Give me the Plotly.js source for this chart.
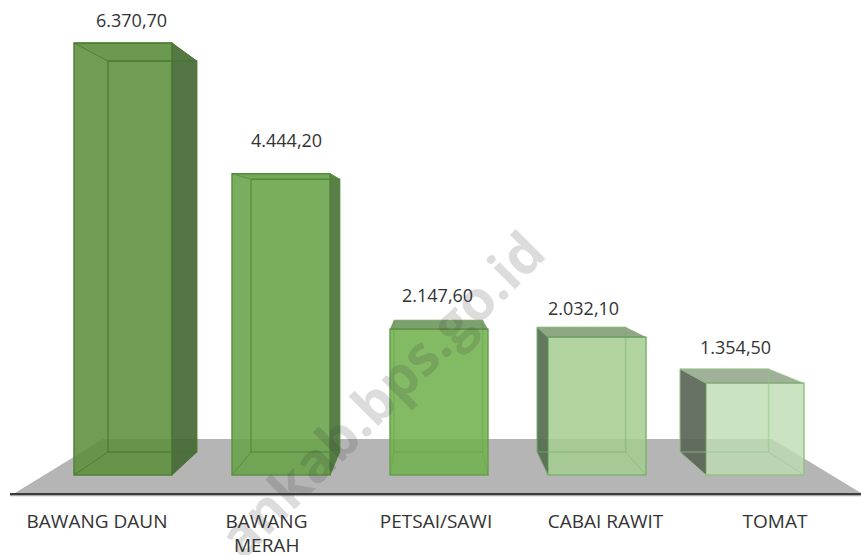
<!DOCTYPE html>
<html><head><meta charset="utf-8">
<script src="https://cdn.plot.ly/plotly-3.0.1.min.js"></script>
<style>html,body{margin:0;padding:0;background:#fff}#c{width:861px;height:555px}</style>
</head><body><div id="c"></div>
<script>
// DATA
var categories = ['BAWANG DAUN', 'BAWANG MERAH', 'PETSAI/SAWI', 'CABAI RAWIT', 'TOMAT'];
var tickLines = ['BAWANG DAUN', 'BAWANG', 'PETSAI/SAWI', 'CABAI RAWIT', 'TOMAT'];
var values = [6370.70, 4444.20, 2147.60, 2032.10, 1354.50];
var valueLabels = ['6.370,70', '4.444,20', '2.147,60', '2.032,10', '1.354,50'];

// STYLE
var frontFill = ['rgba(92,142,60,0.88)', 'rgba(104,162,72,0.88)', 'rgba(114,178,80,0.88)', 'rgba(165,204,145,0.85)', 'rgba(190,220,178,0.8)'];
var edge = ['#4f8236', '#5b9140', '#68a04a', '#7db36b', '#93c283'];
var innerEdge = ['rgba(70,120,45,0.75)', 'rgba(80,135,55,0.7)', 'rgba(90,150,65,0.3)', 'rgba(120,175,105,0.45)', 'rgba(150,195,135,0.5)'];
var sideFill = ['rgba(70,105,55,0.92)', 'rgba(76,116,60,0.92)', '#5f8a4c', 'rgba(85,110,80,0.92)', 'rgba(90,102,88,0.92)'];
var topFill = ['rgba(90,140,60,0.15)', 'rgba(100,155,70,0.2)', 'rgba(70,120,50,0.7)', 'rgba(90,125,75,0.68)', 'rgba(95,125,85,0.6)'];
var labelDx = [8, 5.5, -1.5, -13.5, -20];
var labelDy = [23, 34, 34, 29, 36];

// GEOMETRY: one px scale shared by the data axes
var pxBase = 475, pxAxis = 498, pxFirst = 123, pxStep = 158;
var tickFirst = 97, tickStep = 169.5;
var unitPerPx = 6370.7 / 432;
var W = 861;
var barW = 0.62;
function X(px) { return (px - pxFirst) / pxStep; }
function Y(px) { return (pxBase - px) * unitPerPx; }
var vx = X(432), vy = Y(233), depth = 0.905;
function pr(x, y) { return [vx + depth * (x - vx), vy + depth * (y - vy)]; }

var traces = [];
traces.push({ type: 'bar', x: [0, 1, 2, 3, 4], y: values, width: barW,
  marker: { color: frontFill, line: { color: edge, width: 1.5 } }, hoverinfo: 'skip', showlegend: false });

function poly(pts, fill, line, lw) {
  traces.push({ type: 'scatter', mode: 'lines', x: pts.map(function (p) { return p[0]; }), y: pts.map(function (p) { return p[1]; }),
    fill: fill ? 'toself' : 'none', fillcolor: fill || undefined, line: { color: line, width: lw }, hoverinfo: 'skip', showlegend: false });
}
values.forEach(function (v, i) {
  var l = i - barW / 2, r = i + barW / 2;
  var FTL = [l, v], FTR = [r, v], FBL = [l, 0], FBR = [r, 0];
  var BTL = pr(l, v), BTR = pr(r, v), BBL = pr(l, 0), BBR = pr(r, 0);
  if (BTR[0] > r) poly([FTR, BTR, BBR, FBR, FTR], sideFill[i], innerEdge[i], 1);
  if (BTL[0] < l) poly([FTL, BTL, BBL, FBL, FTL], sideFill[i], innerEdge[i], 1);
  poly([FTL, FTR, BTR, BTL, FTL], topFill[i], innerEdge[i], 1);
  poly([BTL, BTR, BBR, BBL, BTL], null, innerEdge[i], 1.5);
  poly([FBL, BBL], null, innerEdge[i], 1);
  poly([FBR, BBR], null, innerEdge[i], 1);
});

var valueFont = { family: 'Open Sans', size: 18, color: '#333' };
var tickFont = { family: 'Open Sans', size: 19, color: '#333' };
var annotations = values.map(function (v, i) {
  return { x: i, y: v, xref: 'x', yref: 'y', text: valueLabels[i], showarrow: false, xanchor: 'center', yanchor: 'middle',
    xshift: labelDx[i], yshift: labelDy[i], font: valueFont };
});
annotations.push({ x: X(tickFirst + tickStep), y: (pxAxis - 545) / pxAxis, xref: 'x', yref: 'paper', text: 'MERAH', showarrow: false,
  xanchor: 'center', yanchor: 'middle', font: tickFont });
annotations.push({ x: X(380), y: Y(393), xref: 'x', yref: 'y', text: 'ankab.bps.go.id', showarrow: false, textangle: -45,
  xanchor: 'center', yanchor: 'middle', font: { family: 'Open Sans', size: 55, weight: 700, color: 'rgba(60,60,60,0.18)' } });

var floorPts = [[X(15), Y(493)], [X(103), Y(439)], [X(772), Y(439)], [X(861), Y(493)]];
var floorPath = 'M' + floorPts.map(function (p) { return p[0] + ',' + p[1]; }).join(' L') + ' Z';

var layout = {
  width: W, height: 555, margin: { l: 0, r: 0, t: 0, b: 555 - pxAxis, pad: 0 },
  paper_bgcolor: '#fff', plot_bgcolor: 'rgba(0,0,0,0)', showlegend: false, barmode: 'overlay',
  xaxis: { range: [X(0), X(W)], tickmode: 'array', tickvals: [0, 1, 2, 3, 4].map(function (i) { return X(tickFirst + i * tickStep); }), ticktext: tickLines,
    showgrid: false, zeroline: false, showline: false, ticks: 'outside', ticklen: 6, tickcolor: 'rgba(0,0,0,0)',
    tickfont: tickFont, fixedrange: true },
  yaxis: { range: [Y(pxAxis), Y(0)], visible: false, fixedrange: true },
  shapes: [
    { type: 'path', path: floorPath, xref: 'x', yref: 'y', fillcolor: '#b5b5b5', line: { width: 0 }, layer: 'below' },
    { type: 'line', x0: X(10), x1: X(W), y0: Y(495.5), y1: Y(495.5), xref: 'x', yref: 'y', line: { color: '#a8a8a8', width: 1.5 }, layer: 'below' },
    { type: 'line', x0: X(10), x1: X(W), y0: Y(494), y1: Y(494), xref: 'x', yref: 'y', line: { color: '#3c3c3c', width: 2 }, layer: 'below' }
  ],
  annotations: annotations
};
Plotly.newPlot('c', traces, layout, { staticPlot: true, displayModeBar: false });
</script></body></html>
